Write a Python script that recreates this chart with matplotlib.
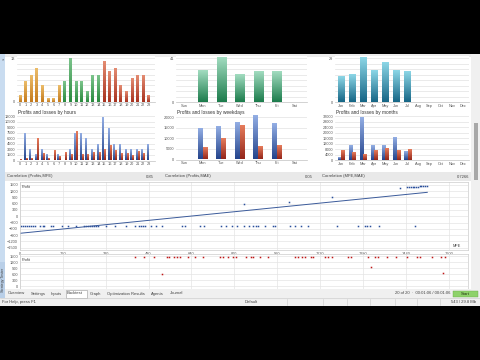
import numpy as np
import matplotlib
matplotlib.use('Agg')
import matplotlib.pyplot as plt
from matplotlib.colors import LinearSegmentedColormap
from matplotlib.patches import Rectangle

plt.rcParams['font.family'] = ['Liberation Sans', 'DejaVu Sans']

# ---- data ----
hour_labels = [str(h) for h in range(24)]
hour_trades = [2, 6, 8, 10, 5, 1, 1, 5, 6, 13, 6, 6, 3, 8, 8, 12, 9, 10, 5, 3, 7, 8, 8, 2]
hour_profit = [0, 7250, 2900, 1450, 2900, 1450, 0, 1450, 0, 2900, 7250, 7250, 5800, 2900,
               4350, 11600, 8700, 4350, 4350, 2900, 2900, 2900, 2900, 4350]
hour_loss = [150, 300, 350, 5800, 1850, 350, 2500, 1000, 1950, 1400, 7750, 1400, 1400, 1950,
             1950, 2900, 3900, 2500, 1900, 1700, 1100, 2400, 1900, 0]

day_labels = ['Sun', 'Mon', 'Tue', 'Wed', 'Thu', 'Fri', 'Sat']
day_trades = [0, 29, 41, 26, 28, 28, 0]
day_profit = [0, 14300, 15400, 17200, 20300, 16700, 0]
day_loss = [0, 5500, 9600, 16000, 6000, 6500, 0]

month_labels = ['Jan', 'Feb', 'Mar', 'Apr', 'May', 'Jun', 'Jul', 'Aug', 'Sep', 'Oct', 'Nov', 'Dec']
month_trades = [17, 18, 29, 21, 26, 21, 20, 0, 0, 0, 0, 0]
month_profit = [1700, 10300, 31500, 10300, 10300, 16200, 6600, 0, 0, 0, 0, 0]
month_loss = [6900, 5400, 3700, 6900, 8100, 6900, 7600, 0, 0, 0, 0, 0]

# profit vs MFE
loss_level = -450
loss_mfe = [3, 10, 18, 25, 33, 41, 48, 56, 76, 84, 91, 114, 124, 156, 178, 210, 239, 246, 254,
            262, 269, 277, 285, 292, 320, 353, 394, 429, 444, 452, 460, 467, 489, 508, 531, 603,
            616, 673, 686, 752, 768, 790, 810, 837, 856, 871, 879, 889, 914, 945, 953, 1007,
            1026, 1047, 1076, 1182, 1262, 1287, 1294, 1306, 1341, 1474]
win_mfe = [836, 1004, 1164, 1420, 1445, 1452, 1458, 1465, 1472, 1478, 1485, 1492, 1498, 1505,
           1512, 1519]
win_profit = [595, 676, 929, 1343, 1376, 1382, 1388, 1395, 1401, 1408, 1414, 1421, 1427, 1434,
              1442, 1452]
trend_mfe = [0, 1520]
trend_profit = [-814, 1138]

# profit vs MAE (visible part)
mae_vals = [429, 463, 501, 529, 547, 557, 575, 585, 597, 628, 653, 684, 746, 756, 777, 796, 808,
            843, 861, 871, 896, 927, 1026, 1039, 1051, 1063, 1085, 1094, 1138, 1150, 1163, 1225,
            1237, 1300, 1309, 1325, 1337, 1371, 1405, 1443, 1480, 1493, 1536, 1573, 1580, 1586]
mae_profit = [1450, 1440, 1455, 585, 1430, 1445, 1450, 1435, 1460, 1445, 1440, 1450, 1430, 1445,
              1455, 1440, 1450, 1445, 1430, 1450, 1445, 1440, 1450, 1455, 1445, 1450, 1440, 1445,
              1430, 1450, 1440, 1445, 1450, 1440, 950, 1430, 1450, 1445, 1450, 1455, 1440, 1430,
              1450, 1445, 635, 1440]

tabs = ['Overview', 'Settings', 'Inputs', 'Backtest', 'Graph', 'Optimization Results', 'Agents', 'Journal']
tab_x = [8, 31, 51, 67, 90, 107, 151, 170]

W, H = 480, 360
fig = plt.figure(figsize=(W / 100, H / 100), dpi=100, facecolor='black')


def px_axes(x, y, w, h):
    return fig.add_axes([x / W, 1 - (y + h) / H, w / W, h / H])


def rect(x, y, w, h, color, z=-1, **kw):
    kw.setdefault('edgecolor', 'none')
    fig.add_artist(Rectangle((x / W, 1 - (y + h) / H), w / W, h / H,
                             transform=fig.transFigure, facecolor=color, zorder=z, **kw))


def ftext(x, y, s, **kw):
    kw.setdefault('fontsize', 3.2)
    kw.setdefault('color', '#404040')
    kw.setdefault('va', 'center')
    fig.text(x / W, 1 - y / H, s, zorder=5, **kw)


def shade(ax, bars, light, dark):
    # vertical gradient inside each bar, like the MT5 report
    cmap = LinearSegmentedColormap.from_list('g', [dark, light])
    grad = np.linspace(0, 1, 64).reshape(-1, 1)
    for b in bars:
        h = b.get_height()
        if h <= 0:
            continue
        x0 = b.get_x()
        ax.imshow(grad, extent=[x0, x0 + b.get_width(), 0, h], origin='lower',
                  cmap=cmap, aspect='auto', zorder=3)
        b.set_visible(False)


def style(ax, xlim, ylim, labels, yticks, ylabels):
    ax.set_xlim(*xlim)
    ax.set_ylim(*ylim)
    ax.set_xticks(range(len(labels)))
    ax.set_xticklabels(labels)
    ax.set_yticks(yticks)
    ax.set_yticklabels(ylabels)
    ax.tick_params(length=0, labelsize=2.8, colors='#555555', pad=1.2)
    for s in ['left', 'right', 'top']:
        ax.spines[s].set_visible(False)
    ax.spines['bottom'].set_color('#c0c0c0')
    ax.spines['bottom'].set_linewidth(0.5)
    ax.grid(axis='y', color='#e2e2e2', lw=0.5)
    ax.set_axisbelow(True)
    ax.set_facecolor('white')


# window background
rect(0, 54, 480, 252, '#ffffff', z=-2)
rect(0, 54, 480, 2.5, '#ececec')
rect(0, 54, 5, 236, '#c9dcf0')
ftext(2.5, 59, '\u00d7', fontsize=3, ha='center')

# ---- row 1: trade counts ----
hour_colors = [('#ecbd6a', '#c47a1c')] * 8 + [('#7cc48c', '#2a8a3e')] * 7 + [('#e48c72', '#a8321f')] * 9
ax = px_axes(17, 56, 138, 45.7)
bars = ax.bar(range(24), hour_trades, width=0.5)
for b, (lt, dk) in zip(bars, hour_colors):
    shade(ax, [b], lt, dk)
g = [max(hour_trades) * k / 8 for k in range(9)]
style(ax, (-0.55, 24.1), (0, 13.7), hour_labels, g, ['0'] + [''] * 7 + [str(max(hour_trades))])

ax = px_axes(176, 56, 131, 46.3)
shade(ax, ax.bar(range(7), day_trades, width=0.5), '#a2dcc0', '#1c7c4c')
g = [max(day_trades) * k / 8 for k in range(9)]
style(ax, (-0.45, 6.64), (0, 43.1), day_labels, g, ['0'] + [''] * 7 + [str(max(day_trades))])

ax = px_axes(335, 56, 134, 46.3)
shade(ax, ax.bar(range(12), month_trades, width=0.55), '#8cd6e6', '#166686')
g = [max(month_trades) * k / 8 for k in range(9)]
style(ax, (-0.54, 11.54), (0, 30.5), month_labels, g, ['0'] + [''] * 7 + [str(max(month_trades))])

# ---- row 2: profits and losses ----
blue = ('#93aee4', '#24448c')
red = ('#e67c5c', '#94261a')

ax = px_axes(17, 115, 138, 45.5)
shade(ax, ax.bar(np.arange(24) - 0.17, hour_profit, width=0.32), *blue)
shade(ax, ax.bar(np.arange(24) + 0.17, hour_loss, width=0.32), *red)
t = list(range(0, 12001, 1500))
style(ax, (-0.55, 24.1), (0, 12400), hour_labels, t, [str(v) for v in t])
ftext(18, 112.5, 'Profits and losses by hours', fontsize=3.4, color='#303030')

ax = px_axes(176, 115, 131, 44.5)
shade(ax, ax.bar(np.arange(7) - 0.14, day_profit, width=0.26), *blue)
shade(ax, ax.bar(np.arange(7) + 0.14, day_loss, width=0.26), *red)
t = list(range(0, 20001, 5000))
style(ax, (-0.45, 6.64), (0, 20950), day_labels, t, [str(v) for v in t])
ftext(177, 112.5, 'Profits and losses by weekdays', fontsize=3.4, color='#303030')

ax = px_axes(335, 115, 134, 45)
shade(ax, ax.bar(np.arange(12) - 0.15, month_profit, width=0.28), *blue)
shade(ax, ax.bar(np.arange(12) + 0.15, month_loss, width=0.28), *red)
t = list(range(0, 32001, 4000))
style(ax, (-0.54, 11.54), (0, 33000), month_labels, t, [str(v) for v in t])
ftext(336, 112.5, 'Profits and losses by months', fontsize=3.4, color='#303030')

# ---- correlation strip ----
rect(5, 172, 466, 9, '#e9e9e9')
ftext(7, 176.5, 'Correlation (Profits,MFE)', fontsize=3)
ftext(154, 176.5, '0.85', fontsize=3, ha='right')
ftext(165, 176.5, 'Correlation (Profits,MAE)', fontsize=3)
ftext(313, 176.5, '0.05', fontsize=3, ha='right')
ftext(322, 176.5, 'Correlation (MFE,MAE)', fontsize=3)
ftext(469, 176.5, '0.7266', fontsize=3, ha='right')


def scatter_axes(ax, ylim, yt):
    ax.set_xlim(0, 1672)
    ax.set_ylim(*ylim)
    ax.set_xticks(range(0, 1601, 160))
    ax.set_yticks(yt)
    ax.grid(color='#e4e4e4', lw=0.5)
    ax.set_axisbelow(True)
    ax.tick_params(length=0, labelsize=2.8, colors='#555555', pad=1.5)
    for s in ax.spines.values():
        s.set_color('#cccccc')
        s.set_linewidth(0.5)


ax = px_axes(20, 182, 448, 68)
ax.plot(loss_mfe, [loss_level] * len(loss_mfe), 's', color='#2a4f9c', ms=1.1, mew=0)
ax.plot(win_mfe, win_profit, 's', color='#2a4f9c', ms=1.1, mew=0)
ax.plot(trend_mfe, trend_profit, color='#3a5a9a', lw=0.7)
scatter_axes(ax, (-1610, 1630), range(-1500, 1501, 300))
ax.text(0.003, 0.95, 'Profit', transform=ax.transAxes, fontsize=2.8, color='#404040', va='top')
ax.text(0.985, 0.05, 'MFE', transform=ax.transAxes, fontsize=2.8, color='#404040', ha='right')

ax = px_axes(20, 254, 448, 36)
ax.plot(mae_vals, mae_profit, 's', color='#c01818', ms=1.1, mew=0)
scatter_axes(ax, (-200, 1600), range(0, 1501, 300))
ax.set_xticklabels([])
ax.text(0.003, 0.9, 'Profit', transform=ax.transAxes, fontsize=2.8, color='#404040', va='top')

# ---- scrollbar ----
rect(471, 54, 9, 236, '#f0f0f0', z=2)
rect(474, 123, 4, 57, '#a8a8a8', z=3)

# ---- tab bar and status bar ----
rect(0, 289, 480, 17, '#f0f0f0', z=2)
rect(0, 262, 5, 36, '#b9cfe8', z=3)
ftext(2.6, 280, 'Strategy Tester', fontsize=2.6, rotation=90, ha='center')
for x, name in zip(tab_x, tabs):
    if name == 'Backtest':
        rect(x - 1, 289.5, 21, 8, '#ffffff', z=3, edgecolor='#9a9a9a', lw=0.4)
    ftext(x, 293.5, name, fontsize=3)
ftext(395, 293.5, '20 of 20  \u00b7  00:01:06 / 00:01:06', fontsize=3)
rect(453, 290.5, 25, 6.5, '#8ed26a', z=3, edgecolor='#6aa84a', lw=0.3)
ftext(465.5, 293.7, 'Start', fontsize=3, ha='center', color='#203010')
fig.add_artist(plt.Line2D([0, 1], [1 - 298 / H, 1 - 298 / H], transform=fig.transFigure,
                          color='#c8c8c8', lw=0.4, zorder=4))
ftext(2, 301.8, 'For Help, press F1', fontsize=3)
ftext(245, 301.8, 'Default', fontsize=3)
for x in [287, 323, 347, 370, 395, 417, 440]:
    fig.add_artist(plt.Line2D([x / W, x / W], [1 - 305 / H, 1 - 299 / H],
                              transform=fig.transFigure, color='#c8c8c8', lw=0.4, zorder=4))
ftext(476, 301.8, '543 / 29.8 Mb', fontsize=3, ha='right')

fig.savefig('out.png', dpi=100, facecolor='black')
